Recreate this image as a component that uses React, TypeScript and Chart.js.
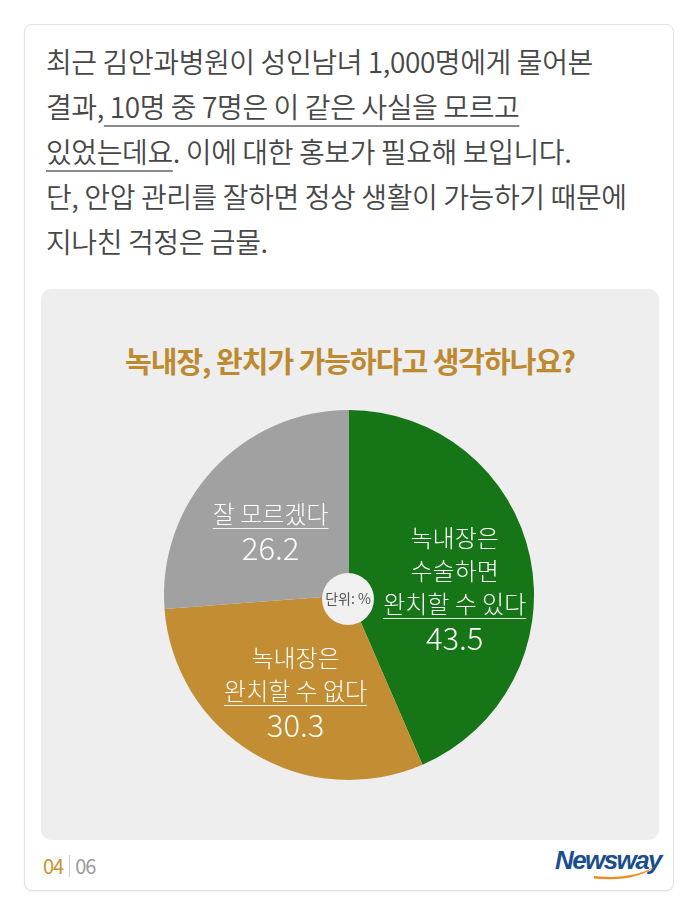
import React, { useEffect, useRef } from "react";
import { Chart, registerables } from "chart.js";

Chart.register(...registerables);

const categories = ["녹내장은 수술하면 완치할 수 있다", "녹내장은 완치할 수 없다", "잘 모르겠다"];
const values = [43.5, 30.3, 26.2];
const labelLines = [["녹내장은", "수술하면", "완치할 수 있다"], ["녹내장은", "완치할 수 없다"], ["잘 모르겠다"]];
const sliceColors = ["#167516", "#c38e33", "#a1a1a1"];
const title = "녹내장, 완치가 가능하다고 생각하나요?";
const unitLabel = "단위: %";

const FONT = '"Noto Sans CJK KR", "Noto Sans", sans-serif';

const labelPlugin = {
  id: "sliceLabels",
  afterDatasetsDraw(chart: any) {
    const ctx = chart.ctx;
    const meta = chart.getDatasetMeta(0);
    const tweaks = [[-3, 15], [4, 1], [3, 11]];
    ctx.save();
    meta.data.forEach((arc: any, i: number) => {
      const p = arc.getProps(["x", "y", "startAngle", "endAngle", "outerRadius"], true);
      const mid = (p.startAngle + p.endAngle) / 2;
      const r = p.outerRadius * 0.6;
      const cx = p.x + Math.cos(mid) * r + tweaks[i][0];
      const cy = p.y + Math.sin(mid) * r + tweaks[i][1];
      const lines = labelLines[i];
      const pitch = 33;
      const total = lines.length + 1;
      const startY = cy - ((total - 1) * pitch) / 2;
      ctx.fillStyle = "#ffffff";
      ctx.textAlign = "center";
      ctx.textBaseline = "middle";
      lines.forEach((ln, j) => {
        ctx.font = `300 24px ${FONT}`;
        const y = startY + j * pitch;
        ctx.fillText(ln, cx, y);
        if (j === lines.length - 1) {
          const w = ctx.measureText(ln).width;
          ctx.strokeStyle = "rgba(255,255,255,0.85)";
          ctx.lineWidth = 1;
          ctx.beginPath();
          ctx.moveTo(cx - w / 2, Math.round(y + 14) + 0.5);
          ctx.lineTo(cx + w / 2, Math.round(y + 14) + 0.5);
          ctx.stroke();
        }
      });
      ctx.font = `300 31px ${FONT}`;
      ctx.fillText(String(values[i]), cx, startY + lines.length * pitch + 1);
    });
    const a0 = meta.data[0];
    if (a0) {
      ctx.fillStyle = "#f0f0f0";
      ctx.beginPath();
      ctx.arc(a0.x - 1, a0.y + 4, 26, 0, Math.PI * 2);
      ctx.fill();
      ctx.fillStyle = "#555555";
      ctx.font = `400 14px ${FONT}`;
      ctx.textAlign = "center";
      ctx.textBaseline = "middle";
      ctx.fillText(unitLabel, a0.x - 1, a0.y + 4);
    }
    ctx.restore();
  },
};

function PieChart() {
  const ref = useRef<HTMLCanvasElement>(null);
  useEffect(() => {
    if (!ref.current) return;
    const chart = new Chart(ref.current, {
      type: "pie",
      data: {
        labels: categories,
        datasets: [
          {
            data: values,
            backgroundColor: sliceColors,
            borderWidth: 0,
          },
        ],
      },
      options: {
        animation: false,
        responsive: false,
        maintainAspectRatio: false,
        layout: { padding: 15 },
        plugins: { legend: { display: false }, tooltip: { enabled: false } },
      },
      plugins: [labelPlugin],
    });
    return () => chart.destroy();
  }, []);
  return (
    <canvas
      ref={ref}
      width={400}
      height={400}
      style={{ position: "absolute", left: 149, top: 395, width: 400, height: 400 }}
    />
  );
}

const para: React.CSSProperties = {
  position: "absolute",
  left: 46,
  top: 39,
  fontFamily: FONT,
  fontSize: 28,
  fontWeight: 350,
  letterSpacing: -0.4,
  lineHeight: "45px",
  color: "#474747",
  whiteSpace: "nowrap",
};

const ul: React.CSSProperties = {
  textDecoration: "underline",
  textDecorationColor: "#8a8a8a",
  textDecorationThickness: "1.5px",
  textUnderlineOffset: "7px",
};

export default function App() {
  return (
    <div style={{ position: "absolute", left: 0, top: 0, width: 700, height: 919, background: "#fff", overflow: "hidden" }}>
      <div
        style={{
          position: "absolute",
          left: 24,
          top: 24,
          width: 648,
          height: 865,
          border: "1px solid #e2e2e2",
          borderRadius: 8,
          boxShadow: "0 1px 2px rgba(0,0,0,0.06)",
          background: "#fff",
        }}
      />
      <div style={para}>
        <div>최근 김안과병원이 성인남녀 1,000명에게 물어본</div>
        <div>
          결과,<span style={ul}> 10명 중 7명은 이 같은 사실을 모르고</span>
        </div>
        <div>
          <span style={ul}>있었는데요</span>. 이에 대한 홍보가 필요해 보입니다.
        </div>
        <div>단, 안압 관리를 잘하면 정상 생활이 가능하기 때문에</div>
        <div>지나친 걱정은 금물.</div>
      </div>
      <div
        style={{
          position: "absolute",
          left: 41,
          top: 289,
          width: 618,
          height: 551,
          borderRadius: 10,
          background: "#eeeeee",
        }}
      />
      <div
        style={{
          position: "absolute",
          left: 41,
          width: 618,
          top: 340,
          textAlign: "center",
          fontFamily: FONT,
          fontWeight: 700,
          fontSize: 29,
          letterSpacing: -1.0,
          lineHeight: "40px",
          color: "#bd8a2f",
        }}
      >
        {title}
      </div>
      <PieChart />
      <div
        style={{
          position: "absolute",
          left: 43,
          top: 852,
          fontFamily: FONT,
          fontSize: 20,
          letterSpacing: -1,
          lineHeight: "28px",
          display: "flex",
          alignItems: "center",
        }}
      >
        <span style={{ color: "#c8922f" }}>04</span>
        <span style={{ display: "inline-block", width: 1, height: 22, background: "#cccccc", margin: "0 5px 0 6px" }} />
        <span style={{ color: "#9a9a9a" }}>06</span>
      </div>
      <svg style={{ position: "absolute", left: 550, top: 842 }} width={120} height={46}>
        <text
          x={5}
          y={27}
          fontFamily='"Liberation Sans", Arial, sans-serif'
          fontWeight={700}
          fontStyle="italic"
          fontSize={26}
          letterSpacing={-1.6}
          fill="#1b4e8e"
        >
          Newsway
        </text>
        <path d="M 44 34 Q 82 38 104 25 Q 86 40 44 36.5 Z" fill="#f08a1c" />
      </svg>
    </div>
  );
}
